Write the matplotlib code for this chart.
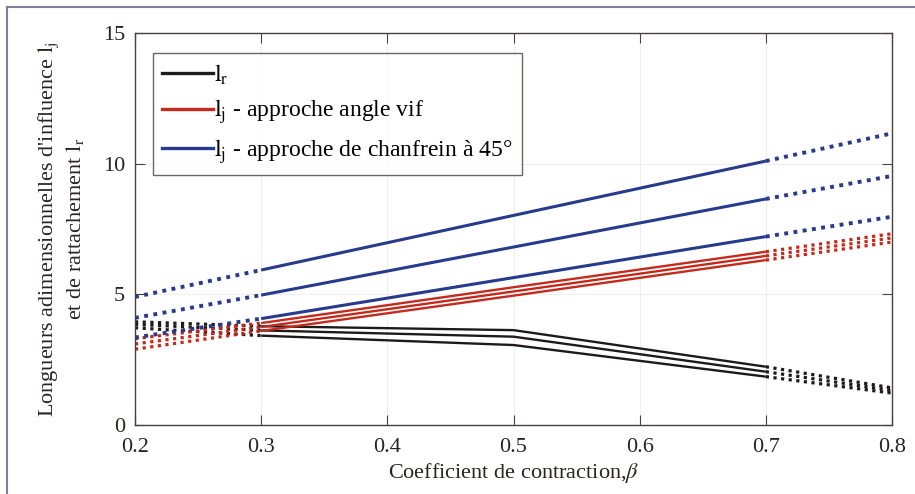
import numpy as np
import matplotlib
matplotlib.use("Agg")
import matplotlib.pyplot as plt
from matplotlib.lines import Line2D

# valeurs (beta = 0.2, 0.3, 0.5, 0.7, 0.8)
beta = [0.2, 0.3, 0.5, 0.7, 0.8]

l_r = [
    [3.95, 3.78, 3.63, 2.23, 1.42],
    [3.85, 3.62, 3.38, 2.04, 1.32],
    [3.72, 3.42, 3.06, 1.85, 1.22],
]
l_j_vif = [
    [3.30, 3.90, 5.27, 6.63, 7.32],
    [3.10, 3.75, 5.11, 6.47, 7.16],
    [2.90, 3.60, 4.95, 6.31, 7.00],
]
l_j_chanfrein = [
    [4.90, 5.93, 8.02, 10.10, 11.16],
    [4.10, 4.97, 6.81, 8.65, 9.53],
    [3.35, 4.07, 5.64, 7.21, 7.97],
]

labels = [
    r"$\mathrm{l_r}$",
    r"$\mathrm{l_j}$ - approche angle vif",
    r"$\mathrm{l_j}$ - approche de chanfrein à 45°",
]
colors = ["#1e1a1a", "#c42a1c", "#283a8c"]
widths = [1.7, 1.7, 2.2]

plt.rcParams["font.family"] = ["Liberation Serif", "DejaVu Serif"]
plt.rcParams["mathtext.fontset"] = "stix"
plt.rcParams["font.size"] = 16

fig = plt.figure(figsize=(9.15, 4.94), dpi=100)
ax = fig.add_axes([135 / 915, 1 - 425 / 494, 757 / 915, 392 / 494])

dots = (0, (1, 1.4))
x = np.array(beta)
for group, col, lw in zip([l_r, l_j_vif, l_j_chanfrein], colors, widths):
    for ys in group:
        ys = np.array(ys)
        ax.plot(x[1:4], ys[1:4], color=col, lw=lw, solid_capstyle="butt")
        ax.plot(x[:2], ys[:2], color=col, lw=lw + 0.6, linestyle=dots,
                dash_capstyle="butt")
        ax.plot(x[3:], ys[3:], color=col, lw=lw + 0.6, linestyle=dots,
                dash_capstyle="butt")

ax.set_xlim(0.2, 0.8)
ax.set_ylim(0, 15)
ax.set_xticks([0.2, 0.3, 0.4, 0.5, 0.6, 0.7, 0.8])
ax.set_yticks([0, 5, 10, 15])
ax.grid(True, color="#efefef", lw=0.8)
ax.tick_params(direction="in", length=7, top=True, right=True,
               color="#4a403c", labelcolor="#2a2320")
ax.tick_params(axis="x", pad=9)
ax.tick_params(axis="y", pad=7)
for s in ax.spines.values():
    s.set_color("#4a403c")
    s.set_linewidth(1.0)

ax.set_xlabel(r"Coefficient de contraction,$\beta$", color="#2a2320", labelpad=3)
ax.set_ylabel("Longueurs adimensionnelles d'influence $\\mathrm{l_j}$\n"
              "et de rattachement $\\mathrm{l_r}$", color="#2a2320",
              labelpad=12, linespacing=1.2)

handles = [Line2D([], [], color=c, lw=2.4) for c in colors]
leg = ax.legend(handles, labels, loc="upper left", bbox_to_anchor=(0.0238, 0.949),
                frameon=True, fancybox=False, edgecolor="#4a403c",
                handlelength=2.15, handletextpad=0.05, borderpad=0.4,
                borderaxespad=0, labelspacing=0.45, fontsize=17)
leg.get_frame().set_linewidth(1.0)

# cadre extérieur (haut et gauche)
fig.add_artist(Line2D([7 / 915, 1], [1 - 7 / 494, 1 - 7 / 494],
                      color="#7c8098", lw=1.5))
fig.add_artist(Line2D([7 / 915, 7 / 915], [0, 1 - 7 / 494],
                      color="#7c8098", lw=1.5))

fig.savefig("out.png", dpi=100)
